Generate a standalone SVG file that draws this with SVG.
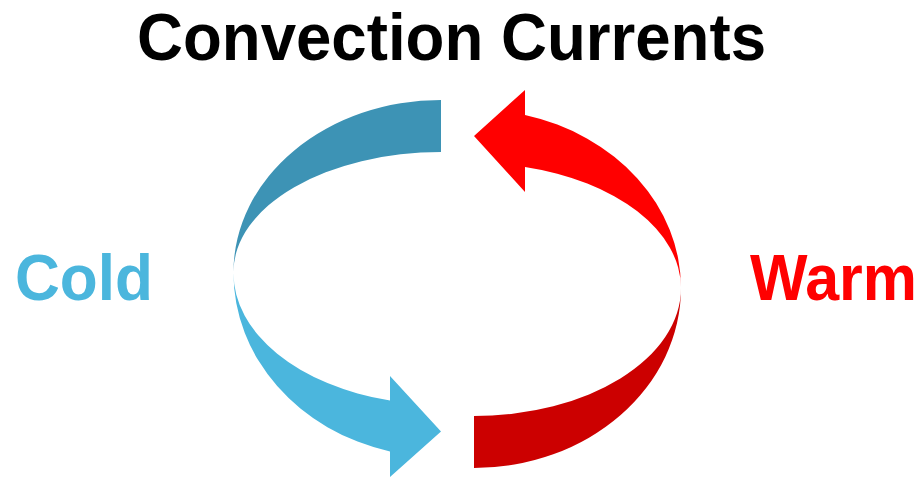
<svg xmlns="http://www.w3.org/2000/svg" width="924" height="478" viewBox="0 0 924 478">
  <style>
    .lbl { font-family: "Liberation Sans", Arial, sans-serif; font-weight: bold; }
    .title { font-size: 66px; fill: #000000; }
    .side { font-size: 64px; }
  </style>
  <rect width="924" height="478" fill="#ffffff"/>
  <g id="title">
    <text class="lbl title" x="137" y="60" textLength="629" lengthAdjust="spacingAndGlyphs">Convection Currents</text>
  </g>
  <g id="cold-label">
    <text class="lbl side" x="15" y="300" fill="#4bb6dd" textLength="138" lengthAdjust="spacingAndGlyphs">Cold</text>
  </g>
  <g id="warm-label">
    <text class="lbl side" x="750" y="300" fill="#ff0000" font-size="60" textLength="167" lengthAdjust="spacingAndGlyphs">Warm</text>
  </g>
  <g id="connectors">
    <path id="cold-top" fill="#3d93b5" d="M 441 100 A 207.5 172 0 0 0 233.5 272 A 207.5 120 0 0 1 441 152 Z"/>
    <path id="cold-bottom" fill="#4bb6dd" d="M 233.5 273 A 207.5 184 0 0 0 390 451.5 L 390 477 L 441 431.5 L 390 376 L 390 400.5 A 207.5 131.5 0 0 1 233.5 273 Z"/>
    <path id="warm-bottom" fill="#cc0000" d="M 474 468 A 207 180 0 0 0 681 288 A 207 128 0 0 1 474 416 Z"/>
    <path id="warm-top" fill="#ff0000" d="M 681 288 A 207 178.5 0 0 0 525 115 L 525 90 L 474 136 L 525 192 L 525 167 A 207 125 0 0 1 681 288 Z"/>
  </g>
</svg>
